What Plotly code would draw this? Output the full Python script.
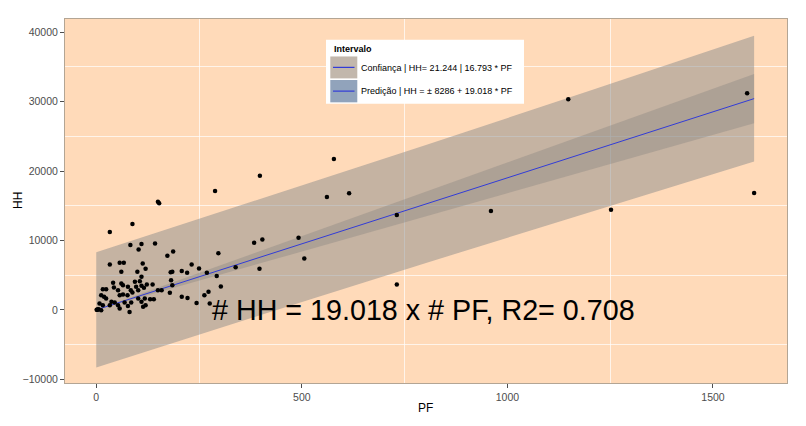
"""
Dispersão HH x PF com reta de regressão pela origem e faixas de confiança / predição.
"""
import plotly.graph_objects as go

# pontos observados (PF, HH)
pf = [33, 88, 150, 153, 289, 398, 578, 561, 615, 731, 960, 731, 1148, 1252, 1583, 1600,
      297, 384, 404, 492, 506, 339, 397, 143, 173, 187, 232, 250, 181, 185, 208, 221,
      269, 293, 120, 182, 185, 137, 123, 150, 159, 179, 303, 131, 140, 208, 222, 273,
      263, 244, 276, 120, 83, 103, 110, 33, 57, 67, 61, 100, 113, 110, 41, 43,
      61, 65, 94, 106, 16, 24, 12, 19, 24, 77, 84, 88, 76, 53, 57, 65,
      97, 102, 110, 116, 8, 16, 33, 37, 45, 53, 57, 69, 77, 85, 102, 110,
      118, 81, 114, 4, 12, 1, 2, 6]
hh = [11200, 12360, 15580, 15350, 17120, 19330, 21740, 16260, 16790, 13660, 14240, 3660, 30350, 14420, 31220, 16830,
      8170, 9660, 10150, 10380, 7410, 6150, 5910, 9570, 7790, 8420, 6520, 5940, 5430, 5480, 5580, 5330,
      5360, 4880, 5910, 4280, 3560, 3660, 3660, 2840, 2840, 2450, 3370, 1540, 1540, 1870, 1720, 2590,
      2090, 1000, 920, 670, 9330, 8710, 9470, 6540, 6780, 6780, 5480, 5480, 6690, 4750, 3890, 3230,
      3800, 3560, 4030, 4130, 2980, 2980, 2110, 1870, 1640, 3310, 2840, 2500, 2110, 2840, 2110, 2220,
      3310, 2840, 3460, 3170, 920, 670, 670, 1150, 1060, 670, 190, 1060, 570, 1060, 1640, 1150,
      1640, -300, 430, 50, -50, 0, 20, 80]

# reta ajustada HH = 19.018 * PF
fit_pf = [0, 1600]
fit_hh = [0, 30430]

# intervalo de confiança (coeficiente 16.793 .. 21.244)
conf_pf = [0, 1600]
conf_lo = [0, 26870]
conf_hi = [0, 33990]

# intervalo de predição
pred_pf = [0, 400, 800, 1200, 1600]
pred_lo = [-8300, -750, 6720, 14080, 21360]
pred_hi = [8300, 15960, 23710, 31560, 39500]

legend_labels = ["Confiança | HH= 21.244 | 16.793 * PF",
                 "Predição | HH = ± 8286 + 19.018 * PF"]

FONT = "Liberation Sans, Arial, sans-serif"
BAND = "rgba(140,140,140,0.5)"
BAND_CONF = "rgba(120,120,120,0.3)"
BLUE = "rgb(50,60,215)"

fig = go.Figure()

# faixa de predição
fig.add_trace(go.Scatter(
    x=pred_pf + pred_pf[::-1], y=pred_hi + pred_lo[::-1],
    mode='lines', fill='toself', fillcolor=BAND,
    line=dict(width=0), showlegend=False, hoverinfo='skip'
))

# faixa de confiança
fig.add_trace(go.Scatter(
    x=conf_pf + conf_pf[::-1], y=conf_hi + conf_lo[::-1],
    mode='lines', fill='toself', fillcolor=BAND_CONF,
    line=dict(width=0), showlegend=False, hoverinfo='skip'
))

fig.add_trace(go.Scatter(
    x=fit_pf, y=fit_hh, mode='lines',
    line=dict(color=BLUE, width=1), showlegend=False
))

fig.add_trace(go.Scatter(
    x=pf, y=hh, mode='markers',
    marker=dict(color='black', size=4.5), showlegend=False
))

# texto da equação
fig.add_annotation(
    x=796, y=0, text="# HH = 19.018 x # PF, R2= 0.708",
    showarrow=False, xanchor='center', yanchor='middle',
    font=dict(size=28.7, color='black', family=FONT)
)


# legenda manual (pixels da janela -> paper)
def px(x):
    return (x - 65) / 722


def py(y):
    return (382.7 - y) / 363.4


shapes = [
    dict(type='rect', xref='paper', yref='paper', x0=px(326), x1=px(524), y0=py(104), y1=py(40),
         fillcolor='white', line=dict(width=0), layer='above'),
    dict(type='rect', xref='paper', yref='paper', x0=px(330.3), x1=px(357.3), y0=py(78.6), y1=py(56.7),
         fillcolor='#C2B7AC', line=dict(width=0), layer='above'),
    dict(type='rect', xref='paper', yref='paper', x0=px(330.3), x1=px(357.3), y0=py(102.5), y1=py(80.2),
         fillcolor='#91A3BB', line=dict(width=0), layer='above'),
    dict(type='line', xref='paper', yref='paper', x0=px(333), x1=px(354.5), y0=py(67.6), y1=py(67.6),
         line=dict(color=BLUE, width=1.2), layer='above'),
    dict(type='line', xref='paper', yref='paper', x0=px(333), x1=px(354.5), y0=py(91.3), y1=py(91.3),
         line=dict(color=BLUE, width=1.2), layer='above'),
]

fig.add_annotation(x=px(331.5), y=py(49.5), xref='paper', yref='paper', text="<b>Intervalo</b>",
                   showarrow=False, xanchor='left', yanchor='middle',
                   font=dict(size=9, color='black', family=FONT))
for lbl, yy in zip(legend_labels, [67.8, 91.4]):
    fig.add_annotation(x=px(358.5), y=py(yy), xref='paper', yref='paper', text=lbl,
                       showarrow=False, xanchor='left', yanchor='middle',
                       font=dict(size=9, color='black', family=FONT))

# títulos dos eixos
fig.add_annotation(x=px(18), y=py(201), xref='paper', yref='paper', text="HH", textangle=-90,
                   showarrow=False, xanchor='center', yanchor='middle',
                   font=dict(size=12, color='black', family=FONT))
fig.add_annotation(x=px(425.5), y=py(408), xref='paper', yref='paper', text="PF",
                   showarrow=False, xanchor='center', yanchor='middle',
                   font=dict(size=12, color='black', family=FONT))

axis_common = dict(
    showgrid=False, zeroline=False, ticks='outside', ticklen=4, tickwidth=1,
    tickcolor='#4D4D4D', showline=True, mirror=True, linecolor='#B3A594', linewidth=1,
    tickfont=dict(size=10.5, color='#4D4D4D', family=FONT), tickformat='d',
    automargin=False,
)

# a página tem 8px de margem no body: figura um pouco menor
fig.update_layout(
    width=798, height=418, autosize=False,
    paper_bgcolor='white', plot_bgcolor='#FFDAB9',
    margin=dict(l=57, r=19, t=11, b=43),
    showlegend=False,
    shapes=shapes,
    xaxis=dict(
        range=[-76, 1680], tickvals=[0, 500, 1000, 1500],
        minor=dict(tickvals=[250, 750, 1250], showgrid=True,
                   gridcolor='rgba(255,255,255,0.7)', gridwidth=1),
        **axis_common
    ),
    yaxis=dict(
        range=[-10540, 41900], tickvals=[-10000, 0, 10000, 20000, 30000, 40000],
        minor=dict(tickvals=[-5000, 5000, 15000, 25000, 35000], showgrid=True,
                   gridcolor='rgba(255,255,255,0.7)', gridwidth=1),
        **axis_common
    ),
)

fig.write_html("out.html")
